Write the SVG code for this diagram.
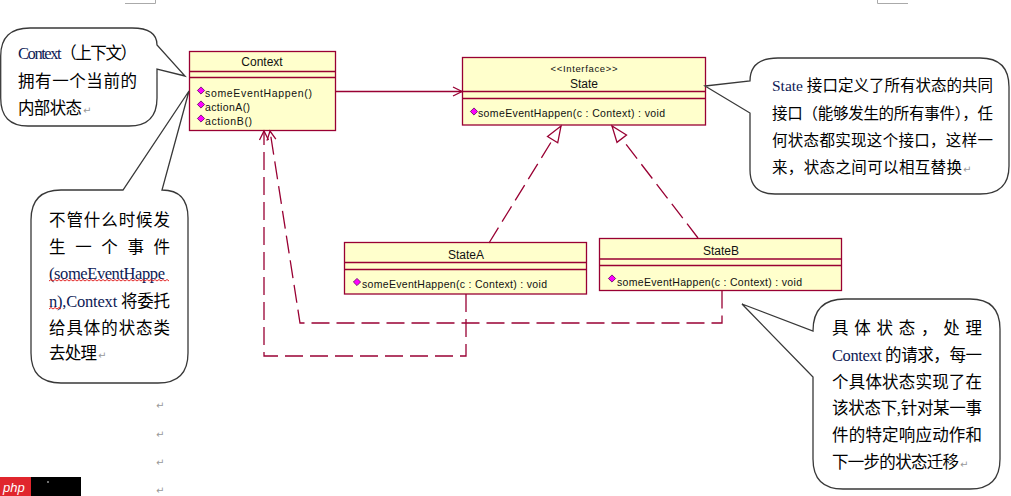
<svg xmlns="http://www.w3.org/2000/svg" width="1011" height="496" viewBox="0 0 1011 496">
<style>
.box{fill:#FFFFCC;stroke:#990033;stroke-width:1.3}
.sep{stroke:#990033;stroke-width:1.3;fill:none}
.uml{font-family:'Liberation Sans',Arial,sans-serif;fill:#111}
.title{font-size:12px;text-anchor:middle}
.stereo{font-size:9.5px;text-anchor:middle}
.meth{font-size:10.5px}
.call{fill:#fff;stroke:#383838;stroke-width:1.3;stroke-linejoin:miter}
.ct{font-family:'Liberation Serif','Noto Sans CJK SC',serif;font-size:16.5px;fill:#000}
.ct3{font-size:15.5px}
.lat{fill:#0d1a55}
.conn{fill:none;stroke:#990033;stroke-width:1.3}
.dash{stroke-dasharray:18 7}
.ret{font-family:'DejaVu Sans',sans-serif;font-size:10px;fill:#999}
.wave{fill:none;stroke:#e01010;stroke-width:0.9}
</style>
<defs>
<marker id="open" markerUnits="userSpaceOnUse" markerWidth="12" markerHeight="12" refX="9" refY="4.5" orient="auto" overflow="visible">
<path d="M0,0 L9,4.5 L0,9" fill="none" stroke="#990033" stroke-width="1.3" stroke-dasharray="none"/>
</marker>
<marker id="tri" markerUnits="userSpaceOnUse" markerWidth="20" markerHeight="16" refX="16" refY="6" orient="auto" overflow="visible">
<path d="M0,0 L16,6 L0,12 Z" fill="#fff" stroke="#990033" stroke-width="1.3" stroke-dasharray="none"/>
</marker>
<polygon id="op" points="0,-3.6 3.6,0 0,3.6 -3.6,0" fill="#FF00FF" stroke="#5a005a" stroke-width="0.8"/>
</defs>
<rect width="1011" height="496" fill="#fff"/>

<path d="M125,3.5 H155.5 V0" fill="none" stroke="#aaa" stroke-width="1"/>
<path d="M877.5,0 V3.5 H908" fill="none" stroke="#aaa" stroke-width="1"/>

<g id="Context">
<rect class="box" x="189.5" y="51.5" width="146" height="79"/>
<path class="sep" d="M189.5,71.5 H335.5 M189.5,77.5 H335.5"/>
<text class="uml title" x="262" y="66">Context</text>
<use href="#op" x="201" y="90.5"/>
<use href="#op" x="201" y="104.5"/>
<use href="#op" x="201" y="118.5"/>
<text class="uml meth" x="205" y="97" textLength="107">someEventHappen()</text>
<text class="uml meth" x="205" y="111" textLength="45">actionA()</text>
<text class="uml meth" x="205" y="125" textLength="47">actionB()</text>
</g>

<g id="State">
<rect class="box" x="462.5" y="57.5" width="243" height="67.5"/>
<path class="sep" d="M462.5,91.5 H705.5 M462.5,98.5 H705.5"/>
<text class="uml stereo" x="584" y="71.5" textLength="67">&lt;&lt;Interface&gt;&gt;</text>
<text class="uml title" x="584" y="87.5">State</text>
<use href="#op" x="474" y="111.5"/>
<text class="uml meth" x="478" y="117" textLength="187">someEventHappen(c : Context) : void</text>
</g>

<g id="StateA">
<rect class="box" x="344.5" y="242.5" width="242" height="51.5"/>
<path class="sep" d="M344.5,262.5 H586.5 M344.5,269.5 H586.5"/>
<text class="uml title" x="466" y="259">StateA</text>
<use href="#op" x="357" y="282"/>
<text class="uml meth" x="362" y="288" textLength="185">someEventHappen(c : Context) : void</text>
</g>

<g id="StateB">
<rect class="box" x="599.5" y="238.5" width="242" height="52"/>
<path class="sep" d="M599.5,259 H841.5 M599.5,265.5 H841.5"/>
<text class="uml title" x="721" y="255">StateB</text>
<use href="#op" x="612" y="278.5"/>
<text class="uml meth" x="617" y="285.5" textLength="185">someEventHappen(c : Context) : void</text>
</g>

<g id="connectors">
<path class="conn" d="M336,91.5 H462" marker-end="url(#open)"/>
<path class="conn dash" d="M489,243 L561,126" marker-end="url(#tri)"/>
<path class="conn dash" d="M698,238 L612,126" marker-end="url(#tri)"/>
<path class="conn dash" d="M466,294 V356 H264 V131" marker-end="url(#open)"/>
<path class="conn dash" d="M722,290.5 V323 H300 L270,131" marker-end="url(#open)"/>
</g>

<g id="note-context">
<path class="call" d="M30,28 H132 Q157,28 157,45 L185,76 L157,69 V98 Q157,126 129,126 H28 Q0.7,126 0.7,98 V56 Q0.7,28 30,28 Z"/>
<text class="ct" x="18" y="59" textLength="119"><tspan class="lat">Context</tspan>（上下文）</text>
<text class="ct" x="18" y="87" textLength="119">拥有一个当前的</text>
<text class="ct" x="18" y="114" textLength="64">内部状态</text>
<text class="ret" x="83" y="114">↵</text>
</g>

<g id="note-delegate">
<path class="call" d="M61,190 H123 L189,91 L162,190 Q188,190 188,218 V353 Q188,383 158,383 H61 Q31,383 31,353 V220 Q31,190 61,190 Z"/>
<text class="ct" x="49" y="226" textLength="121">不管什么时候发</text>
<text class="ct" x="49" y="253" textLength="121">生 一 个 事 件</text>
<text class="ct lat" x="49" y="279" textLength="116">(someEventHappe</text>
<path class="wave" d="M49,281 l2,-1.5 l2,1.5 l2,-1.5 l2,1.5 l2,-1.5 l2,1.5 l2,-1.5 l2,1.5 l2,-1.5 l2,1.5 l2,-1.5 l2,1.5 l2,-1.5 l2,1.5 l2,-1.5 l2,1.5 l2,-1.5 l2,1.5 l2,-1.5 l2,1.5 l2,-1.5 l2,1.5 l2,-1.5 l2,1.5 l2,-1.5 l2,1.5 l2,-1.5 l2,1.5 l2,-1.5 l2,1.5 l2,-1.5 l2,1.5 l2,-1.5 l2,1.5 l2,-1.5 l2,1.5 l2,-1.5 l2,1.5 l2,-1.5 l2,1.5 l2,-1.5 l2,1.5 l2,-1.5 l2,1.5 l2,-1.5 l2,1.5 l2,-1.5 l2,1.5 l2,-1.5 l2,1.5 l2,-1.5 l2,1.5 l2,-1.5 l2,1.5 l2,-1.5 l2,1.5 l2,-1.5 l2,1.5 l2,-1.5 l2,1.5"/>
<text class="ct" x="49" y="307" textLength="121"><tspan class="lat">n),Context</tspan> 将委托</text>
<path class="wave" d="M49,309 l2,-1.5 l2,1.5 l2,-1.5 l2,1.5 l2,-1.5 l2,1.5"/>
<text class="ct" x="49" y="334" textLength="121">给具体的状态类</text>
<text class="ct" x="49" y="359" textLength="48">去处理</text>
<text class="ret" x="98" y="359">↵</text>
</g>

<g id="note-state">
<path class="call" d="M750,81 Q750,58 778,58 H980 Q1009,58 1009,87 V166 Q1009,194 980,194 H775 Q750,194 750,170 V113 L705,86 Z"/>
<text class="ct ct3" x="772" y="91" textLength="221"><tspan class="lat">State</tspan> 接口定义了所有状态的共同</text>
<text class="ct ct3" x="772" y="119" textLength="221">接口（能够发生的所有事件），任</text>
<text class="ct ct3" x="772" y="146" textLength="221">何状态都实现这个接口，这样一</text>
<text class="ct ct3" x="772" y="172.5" textLength="190">来，状态之间可以相互替换</text>
<text class="ret" x="963" y="172.5">↵</text>
</g>

<g id="note-concrete">
<path class="call" d="M813,331 Q813,299 845,299 H970 Q1000,299 1000,329 V459 Q1000,489 970,489 H843 Q813,489 813,459 V377 L742,304 Z"/>
<text class="ct" x="832" y="333.5" textLength="150">具 体 状 态 ， 处 理</text>
<text class="ct" x="832" y="361" textLength="150"><tspan class="lat">Context</tspan> 的请求，每一</text>
<text class="ct" x="832" y="387.5" textLength="150">个具体状态实现了在</text>
<text class="ct" x="832" y="414" textLength="150">该状态下,针对某一事</text>
<text class="ct" x="832" y="441" textLength="150">件的特定响应动作和</text>
<text class="ct" x="832" y="467.5" textLength="127">下一步的状态迁移</text>
<text class="ret" x="960" y="467.5">↵</text>
</g>

<g id="para-marks">
<text class="ret" x="156" y="409">↵</text>
<text class="ret" x="156" y="438">↵</text>
<text class="ret" x="156" y="466">↵</text>
<text class="ret" x="156" y="494">↵</text>
</g>

<g id="watermark">
<rect x="0" y="477" width="31" height="19" fill="#e0262d"/>
<rect x="31" y="477" width="50" height="19" fill="#000"/>
<circle cx="48" cy="482" r="0.8" fill="#fff"/>
<text x="3" y="491.5" font-family="'Liberation Sans',Arial,sans-serif" font-size="13" font-style="italic" fill="#fff">php</text>
</g>
</svg>
